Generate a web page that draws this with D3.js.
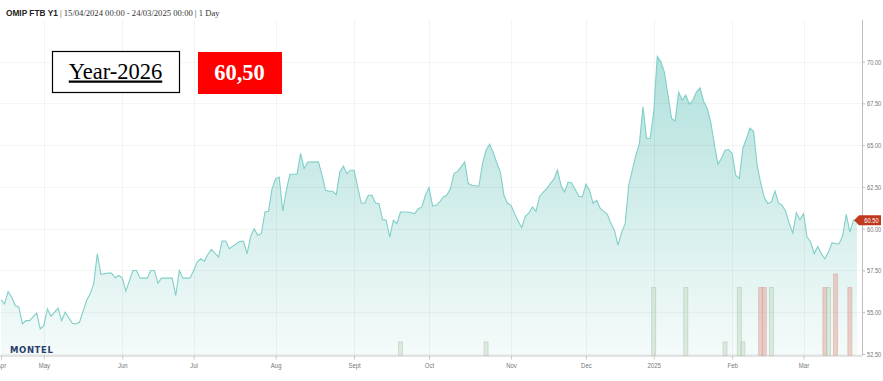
<!DOCTYPE html>
<html><head><meta charset="utf-8">
<script src="https://cdn.jsdelivr.net/npm/d3@7"></script>
<style>html,body{margin:0;padding:0;background:#fff;overflow:hidden} svg{display:block}</style>
</head><body>
<svg id="c" width="883" height="381"></svg>
<script>
// ---------- data ----------
const titleMain = "OMIP FTB Y1";
const titleRest = " | 15/04/2024 00:00 - 24/03/2025 00:00 | 1 Day";
const startDate = "2024-04-15", endDate = "2025-03-24";
const holidays = ["2024-05-01","2024-12-24","2024-12-25","2024-12-26","2025-01-01"];
const monthLabels = ["Apr","May","Jun","Jul","Aug","Sept","Oct","Nov","Dec","2025","Feb","Mar"];
const priceTicks = [52.5,55,57.5,60,62.5,65,67.5,70];
const contractLabel = "Year-2026";
const priceLabel = "60,50";
const lastPrice = 60.50;

const dates = [
"2024-04-15","2024-04-16","2024-04-17","2024-04-18","2024-04-19","2024-04-22","2024-04-23","2024-04-24","2024-04-25","2024-04-29","2024-04-30",
"2024-05-02","2024-05-03","2024-05-06","2024-05-08","2024-05-09","2024-05-10","2024-05-14","2024-05-15","2024-05-16","2024-05-20","2024-05-21","2024-05-22","2024-05-23","2024-05-24","2024-05-28","2024-05-29","2024-05-30","2024-05-31",
"2024-06-03","2024-06-04","2024-06-06","2024-06-07","2024-06-10","2024-06-12","2024-06-13","2024-06-14","2024-06-17","2024-06-18","2024-06-21","2024-06-24","2024-06-25","2024-06-26","2024-06-28",
"2024-07-01","2024-07-02","2024-07-03","2024-07-04","2024-07-05","2024-07-08","2024-07-10","2024-07-11","2024-07-12","2024-07-15","2024-07-18","2024-07-19","2024-07-22","2024-07-23","2024-07-24","2024-07-25","2024-07-26","2024-07-29","2024-07-30","2024-07-31",
"2024-08-01","2024-08-02","2024-08-05","2024-08-06","2024-08-07","2024-08-09","2024-08-12","2024-08-13","2024-08-14","2024-08-19","2024-08-20","2024-08-21","2024-08-22","2024-08-23","2024-08-26","2024-08-27","2024-08-28","2024-08-29","2024-08-30",
"2024-09-02","2024-09-03","2024-09-04","2024-09-05","2024-09-06","2024-09-09","2024-09-10","2024-09-11","2024-09-12","2024-09-13","2024-09-16","2024-09-17","2024-09-18","2024-09-19","2024-09-23","2024-09-25","2024-09-26","2024-09-27","2024-09-30",
"2024-10-01","2024-10-02","2024-10-03","2024-10-04","2024-10-07","2024-10-08","2024-10-09","2024-10-10","2024-10-11","2024-10-14","2024-10-15","2024-10-16","2024-10-17","2024-10-18","2024-10-21","2024-10-22","2024-10-23","2024-10-24","2024-10-25","2024-10-28","2024-10-29","2024-10-30","2024-10-31",
"2024-11-01","2024-11-04","2024-11-05","2024-11-06","2024-11-07","2024-11-08","2024-11-11","2024-11-12","2024-11-13","2024-11-14","2024-11-15","2024-11-18","2024-11-19","2024-11-20","2024-11-21","2024-11-22","2024-11-25","2024-11-26","2024-11-27","2024-11-28","2024-11-29",
"2024-12-02","2024-12-03","2024-12-04","2024-12-05","2024-12-06","2024-12-09","2024-12-10","2024-12-11","2024-12-12","2024-12-13","2024-12-16","2024-12-17","2024-12-18","2024-12-19","2024-12-20","2024-12-23","2024-12-27","2024-12-30","2024-12-31",
"2025-01-02","2025-01-03","2025-01-06","2025-01-07","2025-01-08","2025-01-09","2025-01-10","2025-01-13","2025-01-14","2025-01-15","2025-01-16","2025-01-17","2025-01-20","2025-01-21","2025-01-22","2025-01-23","2025-01-24","2025-01-27","2025-01-28","2025-01-29","2025-01-30","2025-01-31",
"2025-02-03","2025-02-04","2025-02-05","2025-02-06","2025-02-07","2025-02-10","2025-02-11","2025-02-12","2025-02-13","2025-02-14","2025-02-17","2025-02-18","2025-02-19","2025-02-20","2025-02-21","2025-02-24","2025-02-25","2025-02-26","2025-02-27","2025-02-28",
"2025-03-03","2025-03-04","2025-03-05","2025-03-06","2025-03-07","2025-03-10","2025-03-11","2025-03-12","2025-03-13","2025-03-14","2025-03-17","2025-03-18","2025-03-19","2025-03-20","2025-03-21","2025-03-24"
];
const prices = [
55.74,55.50,56.24,55.90,55.40,55.30,54.30,54.50,54.50,54.94,54.00,
54.20,55.20,54.76,55.24,54.50,55.00,54.34,54.30,54.40,55.70,56.10,56.70,58.50,57.26,57.34,57.34,57.06,57.20,
57.06,56.26,57.50,57.50,57.04,57.04,57.50,57.50,56.74,57.04,57.04,56.00,57.50,57.04,57.04,
57.50,58.00,58.20,58.06,58.46,58.76,58.30,59.26,59.26,58.80,59.24,59.24,58.50,59.54,60.00,59.60,59.70,61.00,61.04,62.40,
63.00,63.09,61.06,62.30,63.26,63.26,64.50,63.60,63.99,64.00,63.20,62.30,62.24,62.24,62.04,63.39,63.74,63.30,63.50,
63.50,62.50,61.54,61.54,62.00,62.00,61.54,61.50,60.54,60.50,59.50,60.50,60.30,61.00,61.00,60.90,61.20,61.30,62.00,
62.46,61.36,61.40,61.60,61.90,62.00,62.40,63.30,63.43,63.70,64.00,62.70,62.60,62.57,62.54,63.90,64.69,65.05,64.57,63.95,63.40,62.00,61.52,
61.40,60.90,60.44,60.06,60.74,60.94,61.30,61.04,61.93,62.18,62.40,62.70,62.95,63.50,62.60,62.19,62.79,62.73,62.34,61.94,61.90,
62.66,62.30,61.52,61.70,61.22,61.04,60.86,60.32,59.90,59.00,59.78,60.30,62.60,63.50,64.40,65.11,67.29,65.40,65.40,
66.97,70.30,70.00,69.37,67.99,66.60,66.45,68.17,67.70,67.99,67.45,67.70,68.19,68.43,67.63,67.19,66.37,65.05,63.85,64.21,64.69,64.74,
64.50,63.20,63.00,64.80,65.40,66.01,65.83,63.80,62.72,61.88,61.50,61.60,62.25,61.54,61.40,61.04,60.32,59.74,60.96,60.54,
60.90,59.50,59.20,58.50,58.94,58.50,58.20,58.60,59.16,59.10,59.10,59.60,60.86,59.80,60.50,60.50
];
const volDates = ["2024-09-19","2024-10-23","2025-01-02","2025-01-15","2025-01-30","2025-02-05","2025-02-06","2025-02-13","2025-02-14","2025-02-18","2025-03-11","2025-03-12","2025-03-14","2025-03-20"];
const volumes  = [1,1,5,5,1,5,1,5,5,5,5,5,6,5];
const volDir   = ["up","up","up","up","up","up","up","down","down","up","down","up","down","down"];

// ---------- layout ----------
const plotL = 0, plotR = 862, plotT = 20, plotB = 355.5;
const axisFont = "'Liberation Sans',Arial,sans-serif";
const narrow = 0.76;
const svg = d3.select("#c");
const parse = d3.utcParse("%Y-%m-%d"), fmt = d3.utcFormat("%Y-%m-%d");
const days = d3.utcDay.range(parse(startDate), d3.utcDay.offset(parse(endDate), 1))
  .filter(d => d.getUTCDay() !== 0 && d.getUTCDay() !== 6 && !holidays.includes(fmt(d)))
  .map(fmt);
const x = d3.scalePoint().domain(days).range([1, 857]);
const y = d3.scaleLinear().domain([52.5, 70]).range([354, 61.6]);
const yVol = d3.scaleLinear().domain([0, 6]).range([plotB, 274]);

const monthStarts = days.filter((d, i) => i === 0 || d.slice(0, 7) !== days[i - 1].slice(0, 7));

// gradient
const defs = svg.append("defs");
const grad = defs.append("linearGradient").attr("id", "ag")
  .attr("gradientUnits", "userSpaceOnUse").attr("x1", 0).attr("x2", 0).attr("y1", 50).attr("y2", plotB);
grad.append("stop").attr("offset", 0).attr("stop-color", "#7fcdc6").attr("stop-opacity", 0.62);
grad.append("stop").attr("offset", 1).attr("stop-color", "#7fcdc6").attr("stop-opacity", 0.08);

// area
const pts = dates.map((d, i) => ({d, v: prices[i]}));
svg.append("path").datum(pts)
  .attr("d", d3.area().x(p => x(p.d)).y0(plotB).y1(p => y(p.v)))
  .attr("fill", "url(#ag)");

// grid
const grid = svg.append("g");
grid.selectAll("line.h").data(priceTicks).join("line")
  .attr("x1", plotL).attr("x2", plotR).attr("y1", d => Math.round(y(d)) + 0.5).attr("y2", d => Math.round(y(d)) + 0.5)
  .attr("stroke", "#000").attr("stroke-opacity", 0.04);
grid.selectAll("line.v").data(monthStarts.slice(1)).join("line")
  .attr("x1", d => Math.round(x(d)) + 0.5).attr("x2", d => Math.round(x(d)) + 0.5)
  .attr("y1", plotT).attr("y2", plotB)
  .attr("stroke", "#000").attr("stroke-opacity", 0.045);

// volume bars
svg.append("g").selectAll("rect").data(volDates).join("rect")
  .attr("x", d => x(d) - 2).attr("width", 4)
  .attr("y", (d, i) => yVol(volumes[i])).attr("height", (d, i) => plotB - yVol(volumes[i]))
  .attr("fill", (d, i) => volDir[i] === "down" ? "rgba(226,170,158,0.55)" : "rgba(196,218,196,0.5)")
  .attr("stroke", (d, i) => volDir[i] === "down" ? "rgba(214,160,150,0.6)" : "rgba(176,204,178,0.7)")
  .attr("stroke-width", 0.8);

// line
svg.append("path").datum(pts)
  .attr("d", d3.line().x(p => x(p.d)).y(p => y(p.v)))
  .attr("fill", "none").attr("stroke", "#80cfc8").attr("stroke-width", 1.1);

// x axis
const xAxis = svg.append("g").attr("transform", `translate(0,${plotB})`)
  .call(d3.axisBottom(x).tickValues(monthStarts).tickFormat((d, i) => monthLabels[i]).tickSize(4).tickPadding(3));
xAxis.select(".domain").attr("d", `M${plotL},0.5H${plotR}`).attr("stroke", "#c8c8c8");
xAxis.selectAll(".tick line").attr("stroke", "#c8c8c8");
xAxis.selectAll("text").attr("fill", "#777").attr("font-family", axisFont).attr("font-size", 7.5)
  .attr("transform", "scale(0.8,1)");

// y axis
const yAxis = svg.append("g").attr("transform", `translate(${plotR},0)`)
  .call(d3.axisRight(y).tickValues(priceTicks).tickFormat(d3.format(".2f")).tickSize(3).tickPadding(2));
yAxis.select(".domain").attr("d", `M0.5,${plotT}V${plotB}`).attr("stroke", "#bdbdbd");
yAxis.selectAll(".tick line").attr("stroke", "#bdbdbd");
yAxis.selectAll("text").attr("fill", "#777").attr("font-family", axisFont).attr("font-size", 7.5)
  .attr("x", 5 / narrow).attr("transform", `scale(${narrow},1)`);

// last price marker
const ly = y(lastPrice);
svg.append("path")
  .attr("d", `M${plotR - 8},${ly} L${plotR - 3},${ly - 5} H${881} V${ly + 5} H${plotR - 3} Z`)
  .attr("fill", "#c0391d");
svg.append("text").attr("transform", `translate(${plotR + 9.5},${ly + 2.7}) scale(${narrow},1)`)
  .attr("text-anchor", "middle")
  .attr("fill", "#fff").attr("font-family", axisFont).attr("font-size", 7.5)
  .text(d3.format(".2f")(lastPrice));

// header
const hdr = svg.append("text").attr("x", 6).attr("y", 15.5);
hdr.append("tspan").attr("font-family", "'Liberation Sans',Arial,sans-serif").attr("font-weight", "bold").attr("font-size", 8.3).attr("fill", "#222").text(titleMain);
hdr.append("tspan").attr("font-family", "'Liberation Serif',Georgia,serif").attr("font-size", 8.6).attr("fill", "#333").text(titleRest);

// montel logo
svg.append("text").attr("x", 10).attr("y", 352.5)
  .attr("font-family", "'DejaVu Sans','Liberation Sans',sans-serif").attr("font-weight", "bold")
  .attr("font-size", 8.5).attr("letter-spacing", 0.6).attr("fill", "#27406b").text("MONTEL");

// overlay labels
svg.append("rect").attr("x", 52.5).attr("y", 51.5).attr("width", 127).attr("height", 41)
  .attr("fill", "#fff").attr("stroke", "#000").attr("stroke-width", 1.2);
svg.append("text").attr("x", 115.5).attr("y", 78.5).attr("text-anchor", "middle")
  .attr("font-family", "'Liberation Serif','DejaVu Serif',serif").attr("font-size", 22.5)
  .attr("text-decoration", "underline").attr("fill", "#000").text(contractLabel);
svg.append("rect").attr("x", 198).attr("y", 52).attr("width", 84).attr("height", 42).attr("fill", "#ff0000");
svg.append("text").attr("x", 239.5).attr("y", 80).attr("text-anchor", "middle")
  .attr("font-family", "'Liberation Serif','DejaVu Serif',serif").attr("font-size", 22.5).attr("font-weight", 600)
  .attr("fill", "#fff").text(priceLabel);
</script>
</body></html>
